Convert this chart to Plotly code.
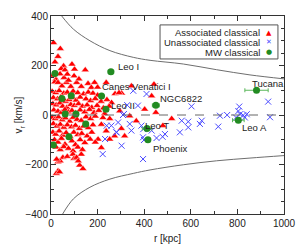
import plotly.graph_objects as go

# ---------------- data ----------------
assoc_r = [11,40,30,17,54,44,101,147,60,39,21,56,99,16,30,66,110,159,187,47,85,130,173,237,345,442,8,75,120,200,90,70,
           5,20,35,55,70,95,115,140,160,180,200,275,303,292,432,
           10,28,42,62,78,92,108,125,150,170,190,215,240,260,
           8,22,38,50,68,85,100,118,135,155,175,198,225,250,295,402,450,
           12,30,45,60,75,90,105,125,145,165,185,205,230,338,
           5,18,32,48,62,80,95,112,130,150,170,190,223,252,366,518,
           10,25,40,55,70,88,105,122,140,160,180,216,237,302,480,
           8,20,35,50,65,82,98,115,132,155,175,202,273,316,252,
           15,30,45,60,90,105,125,145,168,190,216,
           22,40,55,75,95,115,135,
           51,70,94,130,30,99,39,123,137,30,23,37,24,110,117]
assoc_v = [292,268,236,214,198,187,185,182,182,166,144,151,158,133,131,131,131,127,131,117,115,115,111,131,117,124,160,140,145,112,205,165,
           95,90,98,88,92,96,90,85,92,88,80,86,88,90,77,
           70,65,72,55,62,70,60,72,65,58,66,55,62,50,
           45,40,48,35,30,42,38,45,35,40,30,38,28,35,16,23,10,
           20,15,10,22,12,18,8,20,12,22,10,18,5,-4,
           -10,-15,-8,-20,-12,-25,-10,-18,-22,-8,-15,-5,-11,-15,-24,-15,
           -35,-45,-38,-50,-40,-48,-42,-55,-45,-52,-40,-38,-65,-55,-43,
           -70,-78,-65,-82,-72,-88,-70,-80,-75,-85,-70,-98,-85,-85,-98,
           -100,-110,-95,-118,-105,-120,-100,-112,-98,-110,-132,
           -130,-140,-128,-135,-145,-130,-140,
           -172,-168,-159,-159,-190,-176,-186,-203,-217,-226,-236,-230,-179,-172,-186]

unassoc_r = [232,222,303,282,239,396,399,395,353,410,327,313,373,309,259,338,388,345,280,288,395,
             603,932,725,756,808,804,811,825,840,794,832,940,561,589,647,432,453,479,489,553,589,639,718]
unassoc_v = [-97,-158,-124,-70,-43,-57,-101,-178,98,85,40,4,38,0,-43,-36,-43,-63,-70,-30,-90,
             35,54,-3,0,34,16,3,-1,3,-10,-10,-9,-23,-27,-23,-63,-93,-88,-77,-70,-50,-36,-47]

mw_r = [17, 10, 47, 87, 61, 107, 149, 77, 217, 236, 257, 450, 412, 416, 804, 882]
mw_v = [168, -121, 67, 78, 4, 4, -36, -88, 77, 23, 175, 39, -55, -100, -21, 100]
mw_rerr = [1, 1, 2, 3, 3, 4, 5, 4, 8, 10, 12, 15, 20, 10, 25, 50]

label_text = ["Leo I", "Canes Venatici I", "Leo II", "NGC6822", "Tucana", "Leo A", "Leo T", "Phoenix"]
label_r = [279, 210, 249, 459, 854, 811, 395, 429]
label_v = [196, 116, 39, 67, 128, -50, -42, -135]

esc_up_r = [46, 96, 167, 253, 353, 425, 568, 711, 854, 1000]
esc_up_v = [400, 347, 300, 260, 233, 221, 206, 183, 162, 146]
esc_lo_r = [50, 96, 167, 253, 353, 425, 568, 711, 854, 1000]
esc_lo_v = [-400, -339, -292, -259, -236, -222, -201, -185, -174, -164]

legend_names = ["Associated classical", "Unassociated classical", "MW classical"]
legend_glyphs = ["▲", "✕", "●"]
legend_colors = ["#ff0000", "#4a4aff", "#228b22"]

x_ticks = [0, 200, 400, 600, 800, 1000]
y_ticks = [-400, -200, 0, 200, 400]

FONT = "Liberation Sans, Arial"

# ---------------- figure ----------------
fig = go.Figure()
for rr, vv in ((esc_up_r, esc_up_v), (esc_lo_r, esc_lo_v)):
    fig.add_trace(go.Scatter(x=rr, y=vv, mode="lines", line=dict(color="#6e6e6e", width=1, shape="spline"),
                             hoverinfo="skip", showlegend=False))

fig.add_trace(go.Scatter(x=assoc_r, y=assoc_v, mode="markers", name=legend_names[0], showlegend=False,
                         marker=dict(symbol="triangle-up", size=7, color=legend_colors[0],
                                     line=dict(width=0.5, color="white"))))
fig.add_trace(go.Scatter(x=unassoc_r, y=unassoc_v, mode="markers", name=legend_names[1], showlegend=False,
                         marker=dict(symbol="x-thin", size=6, line=dict(color=legend_colors[1], width=1))))
fig.add_trace(go.Scatter(x=mw_r, y=mw_v, mode="markers", name=legend_names[2], showlegend=False,
                         error_x=dict(type="data", array=mw_rerr, color="#5cb85c", thickness=1, width=2),
                         marker=dict(symbol="circle", size=7, color=legend_colors[2], line=dict(width=0))))

for t, r, v in zip(label_text, label_r, label_v):
    fig.add_annotation(x=r, y=v, text=t, showarrow=False, xanchor="left", yanchor="middle",
                       font=dict(size=9.5, color="#222222", family=FONT))

# zero line
fig.add_shape(type="line", xref="paper", yref="y", x0=0, x1=1, y0=0, y1=0,
              line=dict(color="#666666", width=1, dash="dash"))

# legend box
fig.add_shape(type="rect", xref="paper", yref="paper", x0=0.468, x1=0.974, y0=0.783, y1=0.955,
              line=dict(color="#555555", width=1), fillcolor="white", layer="above")
leg_y = [0.916, 0.867, 0.818]
for name, g, c, y in zip(legend_names, legend_glyphs, legend_colors, leg_y):
    fig.add_annotation(xref="paper", yref="paper", x=0.905, y=y, text=name, showarrow=False,
                       xanchor="right", yanchor="middle",
                       font=dict(size=9.5, color="#222222", family=FONT))
    fig.add_annotation(xref="paper", yref="paper", x=0.935, y=y, text=g, showarrow=False,
                       xanchor="center", yanchor="middle",
                       font=dict(size=7, color=c, family="DejaVu Sans"))

axis_common = dict(showline=True, mirror="ticks", linecolor="#333333", linewidth=1, ticks="inside",
                   ticklen=5, tickcolor="#333333", showgrid=False, zeroline=False, automargin=False,
                   tickfont=dict(size=10, color="#222222", family=FONT))
fig.update_xaxes(range=[0, 1000], tickvals=x_ticks, **axis_common,
                 minor=dict(ticks="inside", ticklen=3, dtick=100, tickcolor="#333333"),
                 title=dict(text="r [kpc]", font=dict(size=10, color="#222222", family=FONT), standoff=6))
fig.update_yaxes(range=[-400, 400], tickvals=y_ticks, **axis_common,
                 minor=dict(ticks="inside", ticklen=3, dtick=50, tickcolor="#333333"),
                 title=dict(text="v<sub>r</sub> [km/s]", font=dict(size=10, color="#222222", family=FONT), standoff=0))
fig.update_layout(width=299, height=249, margin=dict(l=51, r=15, t=16, b=35),
                  plot_bgcolor="white", paper_bgcolor="white")
fig.write_html("out.html", config={"displayModeBar": False},
               post_script="document.body.style.margin='0';")
